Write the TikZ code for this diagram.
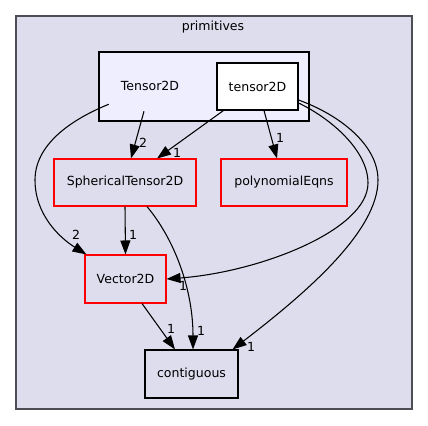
\documentclass[tikz,border=0pt]{standalone}
\usepackage{fontspec}
\setmainfont{DejaVu Sans}
\usetikzlibrary{arrows.meta,calc}
\definecolor{clbg}{HTML}{DDDDEE}
\definecolor{inbg}{HTML}{EEEEFF}
\definecolor{clborder}{HTML}{4D4D55}
\begin{document}
\begin{tikzpicture}[x=0.75pt,y=-0.75pt,
  every node/.style={font=\fontsize{9.4pt}{11pt}\selectfont, inner sep=0pt},
  dirnode/.style={draw=red, line width=0.8pt, fill=clbg, minimum height=35.25pt},
  plainnode/.style={draw=black, line width=0.8pt, minimum height=35.25pt},
  edge/.style={draw=black, line width=0.8pt, -{Triangle[length=10.5pt,width=7.5pt]}},
  lbl/.style={font=\fontsize{9.4pt}{11pt}\selectfont}]
\useasboundingbox (0,0) rectangle (428,425);
\fill[white] (0,0) rectangle (428,425);
% clusters
\node[draw=clborder, fill=clbg, line width=1pt, minimum width=297pt, minimum height=294.75pt] (prim) at (214,212.5) {};
\node (primlbl) at (213,27) {primitives};
\node[draw=black, fill=inbg, line width=0.8pt, minimum width=157.5pt, minimum height=51.75pt] (T2Dclust) at (204,86.5) {};
\node[minimum width=67.5pt, minimum height=37.5pt] (T2D) at (150,86) {Tensor2D};
% nodes
\node[plainnode, fill=white, minimum width=60.75pt] (tensor) at (257.5,86.5) {tensor2D};
\node[dirnode, minimum width=106.5pt] (sph) at (125,182.5) {SphericalTensor2D};
\node[dirnode, minimum width=94.5pt] (poly) at (284,182.5) {polynomialEqns};
\node[dirnode, minimum width=60.75pt, minimum height=36pt] (vec) at (125.5,279) {Vector2D};
\node[plainnode, fill=clbg, minimum width=69.75pt, minimum height=36pt] (cont) at (191.5,374) {contiguous};
% edges
\draw[edge] ($(T2D.south)+(-6,0)$) -- ($(sph.north)+(6,0)$);
\node[lbl] (l1) at (143,143) {2};
\draw[edge] ($(tensor.south west)+(7,0)$) -- ($(sph.north)+(32,0)$);
\node[lbl] (l2) at (177,153) {1};
\draw[edge] ($(tensor.south)+(6.5,0)$) -- ($(poly.north)+(-7,0)$);
\node[lbl] (l3) at (280,138) {1};
\draw[edge] ($(T2D.south west)+(4,-7)$) .. controls (70,120) and (35,145) .. (35,180)
   .. controls (35,215) and (60,238) .. ($(vec.north west)+(2,0)$);
\node[lbl] (l4) at (76,235) {2};
\draw[edge] ($(tensor.east)+(0,16.5)$) .. controls (330,118) and (368,150) .. (368,183)
   .. controls (368,230) and (260,272) .. (vec.east);
\node[lbl] (l5) at (183,286) {1};
\draw[edge] ($(tensor.east)+(0,13.5)$) .. controls (340,115) and (378,145) .. (378,180)
   .. controls (378,230) and (310,290) .. ($(cont.north east)+(-6,0)$);
\node[lbl] (l6) at (251,347) {1};
\draw[edge] (sph.south) -- (vec.north);
\node[lbl] (l7) at (133,235) {1};
\draw[edge] ($(sph.south)+(22,0)$) .. controls (175,240) and (193,290) .. ($(cont.north)+(1.5,0)$);
\node[lbl] (l8) at (201,331) {1};
\draw[edge] ($(vec.south)+(16.5,0)$) -- ($(cont.north)+(-16.5,0)$);
\node[lbl] (l9) at (171,329) {1};
\end{tikzpicture}
\end{document}
